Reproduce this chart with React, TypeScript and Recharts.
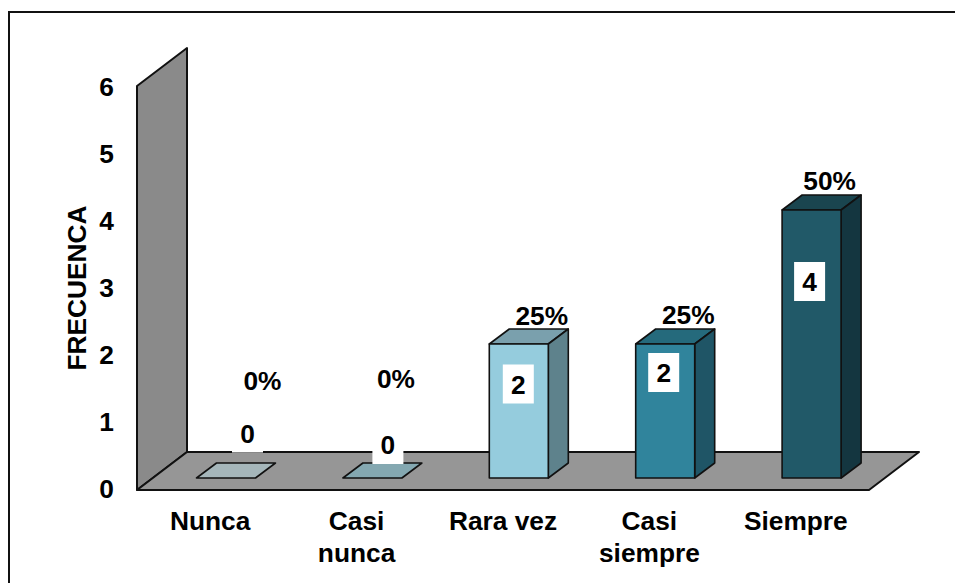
import React from "react";
import { BarChart, Bar, XAxis, YAxis, ReferenceArea, LabelList } from "recharts";

const categories = ["Nunca", "Casi\nnunca", "Rara vez", "Casi\nsiempre", "Siempre"];
const frequencies = [0, 0, 2, 2, 4];
const percents = ["0%", "0%", "25%", "25%", "50%"];
const yTicks = [0, 1, 2, 3, 4, 5, 6];

const faceColors = ["#a5b6ba", "#84a8b1", "#95ccdd", "#30849c", "#215968"];
const sideColors = ["#7d8c90", "#5f8088", "#5e828c", "#1f5566", "#143640"];
const topColors = ["#a5b6ba", "#84a8b1", "#7aa0ad", "#256a7c", "#1a454f"];

// Hand placement of the data labels, relative to each bar's front-face centre and top.
const valueNudge = [
  [21.5, -45],
  [15.5, -33.5],
  [-0.5, 40],
  [-1.5, 28.5],
  [-2, 71.5],
];
const percentNudge = [
  [36.5, -97],
  [23.5, -99],
  [23, -28],
  [23, -29],
  [18, -29],
];

const data = categories.map((name, i) => ({
  name,
  value: frequencies[i],
  percent: percents[i],
  index: i,
}));

const FONT = "'Liberation Sans', Arial, sans-serif";
const FONT_SIZE = 26.3;
const STROKE = "#111";
const DEPTH_X = 50;
const DEPTH_Y = 38;
const BAR_DX = 15.5;
const BAR_DY = -11;
const BAR_DEPTH_X = 20;
const BAR_DEPTH_Y = 15;

const Walls = (props: any) => {
  const { x, y, width, height } = props;
  const t = y - 1;
  const b = y + height + 1;
  const wall = `M${x},${b} L${x},${t} L${x + DEPTH_X},${t - DEPTH_Y} L${x + DEPTH_X},${b - DEPTH_Y} Z`;
  const floor = `M${x},${b} L${x + DEPTH_X},${b - DEPTH_Y} L${x + width + DEPTH_X},${b - DEPTH_Y} L${x + width},${b} Z`;
  return (
    <g>
      <path d={wall} fill="#8a8a8a" stroke={STROKE} strokeWidth={2} strokeLinejoin="round" />
      <path d={floor} fill="#969696" stroke={STROKE} strokeWidth={2} strokeLinejoin="round" />
    </g>
  );
};

const Bar3D = (props: any) => {
  const { x, y, width, height, index } = props;
  const l = x + BAR_DX;
  const r = l + width;
  const t = y + BAR_DY;
  const b = t + height;
  const dx = BAR_DEPTH_X;
  const dy = BAR_DEPTH_Y;
  return (
    <g stroke={STROKE} strokeWidth={1.6} strokeLinejoin="round">
      <path d={`M${l},${t} L${l + dx},${t - dy} L${r + dx},${t - dy} L${r},${t} Z`} fill={topColors[index]} />
      {height > 0 && (
        <>
          <path d={`M${r},${t} L${r + dx},${t - dy} L${r + dx},${b - dy} L${r},${b} Z`} fill={sideColors[index]} />
          <rect x={l} y={t} width={width} height={height} fill={faceColors[index]} />
        </>
      )}
    </g>
  );
};

const ValueLabel = (props: any) => {
  const { x, y, width, value, index } = props;
  const cx = x + BAR_DX + width / 2 + valueNudge[index][0];
  const cy = y + BAR_DY + valueNudge[index][1];
  return (
    <g>
      <rect x={cx - 15.5} y={cy - 19.5} width={31} height={39} fill="#fff" />
      <text x={cx} y={cy + 0.5} textAnchor="middle" dominantBaseline="central" fontFamily={FONT} fontSize={FONT_SIZE} fontWeight={700} fill="#000">
        {value}
      </text>
    </g>
  );
};

const PercentLabel = (props: any) => {
  const { x, y, width, value, index } = props;
  const cx = x + BAR_DX + width / 2 + percentNudge[index][0];
  const cy = y + BAR_DY + percentNudge[index][1];
  return (
    <text x={cx} y={cy} textAnchor="middle" dominantBaseline="central" fontFamily={FONT} fontSize={FONT_SIZE} fontWeight={700} fill="#000">
      {value}
    </text>
  );
};

const CategoryTick = (props: any) => {
  const { x, y, payload } = props;
  const lines = String(payload.value).split("\n");
  return (
    <text textAnchor="middle" fontFamily={FONT} fontSize={FONT_SIZE} fontWeight={700} fill="#000">
      {lines.map((line, i) => (
        <tspan key={line} x={x} y={y + 33 + i * 32}>
          {line}
        </tspan>
      ))}
    </text>
  );
};

const ValueTick = (props: any) => {
  const { x, y, payload } = props;
  return (
    <text x={x} y={y - 0.5} textAnchor="end" dominantBaseline="central" fontFamily={FONT} fontSize={FONT_SIZE} fontWeight={700} fill="#000">
      {payload.value}
    </text>
  );
};

export default function App() {
  return (
    <div style={{ position: "absolute", left: 0, top: 0, width: 955, height: 583, overflow: "hidden", background: "#fff" }}>
      <div
        style={{
          position: "absolute",
          left: 8,
          top: 11,
          width: 960,
          height: 600,
          border: "2px solid #111",
          boxSizing: "border-box",
        }}
      />
      <div style={{ position: "absolute", left: 0, top: 0 }}>
        <BarChart
          width={955}
          height={583}
          data={data}
          barCategoryGap={0}
          barSize={59}
          margin={{ top: 87, right: 86, bottom: 34, left: 57 }}
          style={{ background: "transparent" }}
        >
          <XAxis dataKey="name" axisLine={false} tickLine={false} height={60} interval={0} tick={<CategoryTick />} />
          <YAxis
            width={80}
            domain={[0, 6]}
            ticks={yTicks}
            axisLine={false}
            tickLine={false}
            tickMargin={17}
            tick={<ValueTick />}
            label={{
              value: "FRECUENCA",
              angle: -90,
              position: "insideLeft",
              offset: 20,
              style: { fontFamily: FONT, fontSize: FONT_SIZE, fontWeight: 700, fill: "#000", textAnchor: "middle" },
            }}
          />
          <ReferenceArea y1={0} y2={6} ifOverflow="visible" shape={<Walls />} />
          <Bar dataKey="value" isAnimationActive={false} shape={<Bar3D />}>
            <LabelList dataKey="value" content={<ValueLabel />} />
            <LabelList dataKey="percent" content={<PercentLabel />} />
          </Bar>
        </BarChart>
      </div>
    </div>
  );
}
